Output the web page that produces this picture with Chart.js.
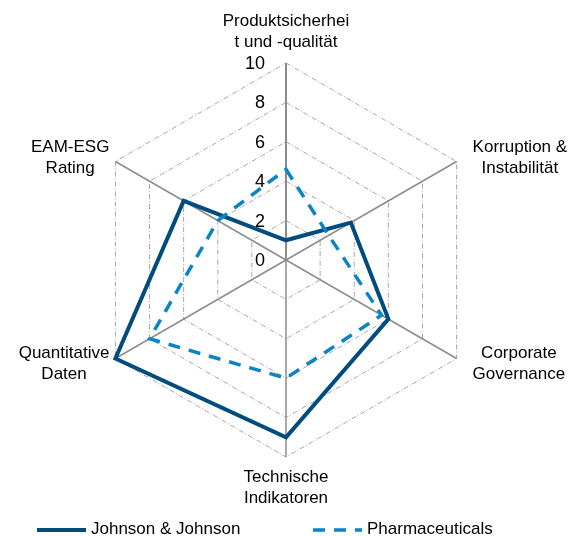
<!DOCTYPE html>
<html>
<head>
<meta charset="utf-8">
<script src="https://cdn.jsdelivr.net/npm/chart.js@4/dist/chart.umd.min.js"></script>
<style>
	body { margin: 0; background: #fff; }
</style>
</head>
<body>
<canvas id="chart-1" width="573" height="536"></canvas>
<script>

var categories = [
	["Produktsicherhei", "t und -qualität"],
	["Korruption &", "Instabilität"],
	["Corporate", "Governance"],
	["Technische", "Indikatoren"],
	["Quantitative", "Daten"],
	["EAM-ESG", "Rating"]
];
var seriesNames = ["Johnson & Johnson", "Pharmaceuticals"];
var johnsonValues = [1, 3.8, 6, 9, 10, 6];
var pharmaValues = [4.6, 2.5, 5.6, 6, 8, 4];
var tickValues = [0, 2, 4, 6, 8, 10];

var labelFont = '17px "Liberation Sans", Arial, sans-serif';

//draws the axis labels, the tick numbers and the legend
var textPlugin = {
	id: 'texts',
	afterDraw: function(chart) {
		var ctx = chart.ctx;
		var r = chart.scales.r;
		ctx.save();
		ctx.fillStyle = '#000';
		ctx.textBaseline = 'middle';

		//tick numbers left of the top axis
		ctx.font = '18px "Liberation Sans", Arial, sans-serif';
		ctx.textAlign = 'right';
		tickValues.forEach(function(v) {
			var p = r.getPointPosition(0, r.getDistanceFromCenterForValue(v));
			ctx.fillText(String(v), r.xCenter - 21, p.y + 1);
		});

		//point labels
		ctx.font = labelFont;
		ctx.textAlign = 'center';
		var lh = 21;
		categories.forEach(function(lines, i) {
			var p = r.getPointPosition(i, r.drawingArea);
			var w = Math.max.apply(null, lines.map(function(l) { return ctx.measureText(l).width; }));
			var dx = p.x - r.xCenter;
			var x = p.x, y;
			if (Math.abs(dx) < 1) {
				y = p.y < r.yCenter ? p.y - 10 - lh * lines.length + lh / 2 : p.y + 10 + lh / 2;
			} else {
				x = dx > 0 ? p.x + 16 + w / 2 : p.x - 6 - w / 2;
				y = p.y + (p.y < r.yCenter ? -4 : 5) - lh * (lines.length - 1) / 2;
			}
			lines.forEach(function(l, k) {
				ctx.fillText(l, x, y + k * lh);
			});
		});

		//legend
		var legendX = [37, 313];
		var legendY = 530;
		ctx.textAlign = 'left';
		chart.data.datasets.forEach(function(ds, i) {
			ctx.save();
			ctx.strokeStyle = ds.borderColor;
			ctx.lineWidth = ds.borderWidth;
			ctx.setLineDash(ds.borderDash || []);
			ctx.beginPath();
			ctx.moveTo(legendX[i], legendY);
			ctx.lineTo(legendX[i] + 49, legendY);
			ctx.stroke();
			ctx.restore();
			ctx.fillText(ds.label, legendX[i] + 54, legendY - 1);
		});
		ctx.restore();
	}
};

var data1 = {
	labels: categories,
	datasets: [{
		label: seriesNames[0],
		data: johnsonValues,
		borderColor: '#004c7f',
		backgroundColor: 'transparent',
		borderWidth: 4,
		borderJoinStyle: 'miter',
		pointRadius: 0,
		fill: false,
		order: 1
	}, {
		label: seriesNames[1],
		data: pharmaValues,
		borderColor: '#0a84c6',
		backgroundColor: 'transparent',
		borderWidth: 3.5,
		borderDash: [12, 9],
		borderJoinStyle: 'miter',
		pointRadius: 0,
		fill: false,
		order: 0
	}]
};

var options1 = {
	responsive: false,
	animation: false,
	layout: {
		padding: { left: 89, right: 90, top: 63, bottom: 79 }
	},
	plugins: {
		legend: { display: false },
		tooltip: { enabled: false }
	},
	scales: {
		r: {
			min: 0,
			max: 10,
			ticks: { display: false, stepSize: 2 },
			pointLabels: { display: false },
			grid: {
				color: '#a6a6a6',
				lineWidth: 1,
				borderDash: [5, 2, 1, 2]
			},
			border: { dash: [5, 2, 1, 2] },
			angleLines: {
				color: '#8c8c8c',
				lineWidth: function(context) {
					return context.index === 0 ? 2 : 1.5;
				}
			}
		}
	}
};

var graph = new Chart('chart-1', {
	type: 'radar',
	data: data1,
	options: options1,
	plugins: [textPlugin]
});

</script>
</body>
</html>
